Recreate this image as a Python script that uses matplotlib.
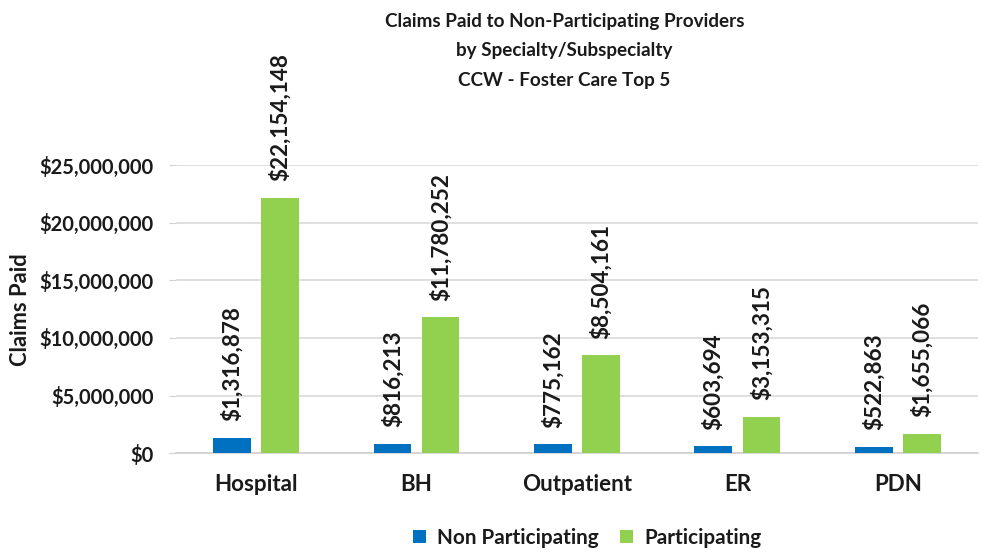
import matplotlib
matplotlib.use("Agg")
import matplotlib.pyplot as plt
import numpy as np
from matplotlib.ticker import FuncFormatter

categories = ["Hospital", "BH", "Outpatient", "ER", "PDN"]
non_participating = [1316878, 816213, 775162, 603694, 522863]
participating = [22154148, 11780252, 8504161, 3153315, 1655066]
series_names = ["Non Participating", "Participating"]
title = "Claims Paid to Non-Participating Providers\nby Specialty/Subspecialty\nCCW - Foster Care Top 5"

plt.rcParams['font.family'] = ['Lato', 'DejaVu Sans']
plt.rcParams['font.weight'] = 'bold'

fig = plt.figure(figsize=(9.82, 5.54), dpi=100)
ax = fig.add_axes([0.179, 0.182, 0.817, 0.52])
renderer = fig.canvas.get_renderer()

def fit(t, target, vertical=False):
    bb = t.get_window_extent(renderer)
    cur = bb.height if vertical else bb.width
    t.set_fontsize(t.get_fontsize() * target / cur)

x = np.arange(len(categories))
w = 0.235
off = 0.15
blue = "#0070C0"
green = "#92D050"
txt = "#1a1a1a"
b1 = ax.bar(x - off, non_participating, w, color=blue, label=series_names[0], zorder=3)
b2 = ax.bar(x + off, participating, w, color=green, label=series_names[1], zorder=3)

ax.set_xlim(-0.5, len(categories) - 0.5)
ax.set_ylim(0, 25000000)
ax.set_yticks(np.arange(0, 25000001, 5000000))
ax.yaxis.set_major_formatter(FuncFormatter(lambda v, p: f"${v:,.0f}"))
ax.set_xticks(x)
ax.set_xticklabels(categories)
ax.tick_params(axis="x", length=0, pad=15, labelsize=15)
ax.tick_params(axis="y", length=5, color="#d0d0d0", pad=11, labelsize=15)
fig.canvas.draw()

# data labels
size_probe = ax.text(0, 0, "$11,780,252", rotation=90, fontsize=14, fontweight="bold")
fit(size_probe, 128, vertical=True)
dl_size = size_probe.get_fontsize()
size_probe.remove()
for bars, vals in ((b1, non_participating), (b2, participating)):
    for rect, v in zip(bars, vals):
        ax.annotate(f"${v:,.0f}", (rect.get_x() + rect.get_width() / 2, rect.get_height()),
                    xytext=(0, 12), textcoords="offset points", rotation=90,
                    ha="center", va="bottom", fontsize=dl_size, fontweight="bold",
                    color=txt, clip_on=False, annotation_clip=False)

fig.canvas.draw()
for lab in ax.get_yticklabels():
    lab.set_fontweight("bold")
    lab.set_color(txt)
ylabs = ax.get_yticklabels()
bb = ylabs[-1].get_window_extent(renderer)
ysz = ax.yaxis.get_majorticklabels()[0].get_fontsize() * 114 / bb.width
ax.tick_params(axis="y", labelsize=ysz)
xl = ax.get_xticklabels()
bbx = xl[2].get_window_extent(renderer)
xsz = xl[2].get_fontsize() * 110 / bbx.width
ax.tick_params(axis="x", labelsize=xsz)
for lab in ax.get_xticklabels() + ax.get_yticklabels():
    lab.set_fontweight("bold")
    lab.set_color(txt)

ax.grid(axis="y", color="#d9d9d9", linewidth=1.2, zorder=0)
for s in ("top", "right", "left"):
    ax.spines[s].set_visible(False)
ax.spines["bottom"].set_color("#d0d0d0")
ax.spines["bottom"].set_linewidth(1.2)

yl = ax.set_ylabel("Claims Paid", fontsize=14, fontweight="bold", color=txt)
fit(yl, 114, vertical=True)
ax.yaxis.set_label_coords(-0.181, 0.5)

t1 = fig.text(0.575, 0.962, title.split("\n")[0], ha="center", va="center",
              fontsize=14, fontweight="bold", color=txt)
fit(t1, 360)
tsz = t1.get_fontsize()
lines = title.split("\n")
ys = [0.962, 0.908, 0.854]
for line, yy in zip(lines[1:], ys[1:]):
    fig.text(0.575, yy, line, ha="center", va="center", fontsize=tsz,
             fontweight="bold", color=txt)

leg = fig.legend(handles=[b1, b2], labels=series_names, loc="center", bbox_to_anchor=(0.598, 0.029),
                 ncol=2, frameon=False, fontsize=15, handlelength=0.62, handleheight=0.62,
                 handletextpad=0.55, columnspacing=1.0)
fig.canvas.draw()
lt = leg.get_texts()[0]
lsz = 15 * 162 / lt.get_window_extent(renderer).width
for t in leg.get_texts():
    t.set_fontsize(lsz)
    t.set_color(txt)

fig.savefig("out.png", dpi=100)
